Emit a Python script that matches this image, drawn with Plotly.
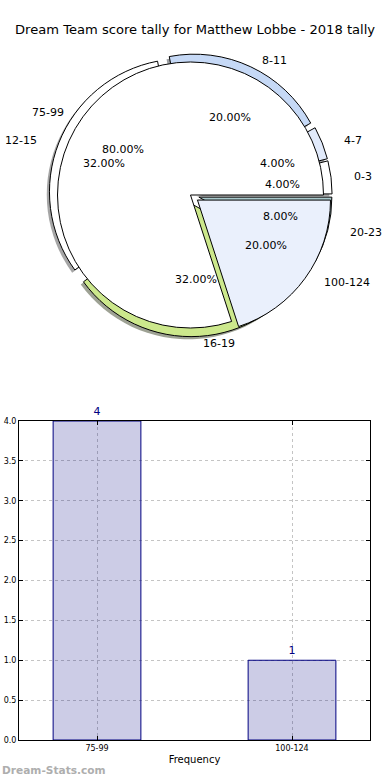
import numpy as np
import plotly.graph_objects as go

# ---------------- data ----------------
title_text = "Dream Team score tally for Matthew Lobbe - 2018 tally"

# outer (exploded) pie: score ranges per round
ring_labels = ["0-3", "4-7", "8-11", "12-15", "16-19", "20-23"]
ring_values = [1, 1, 5, 8, 8, 2]
ring_colors = ["#ffffff", "#e1eafb", "#c6d9f6", "#ffffff", "#cce88c", "#a9c9cc"]

# inner pie: frequency bands
band_labels = ["75-99", "100-124"]
band_values = [4, 1]
band_colors = ["#ffffff", "#eaf0fc"]

# bar chart
bar_categories = ["75-99", "100-124"]
bar_values = [4, 1]
y_ticks = [0.0, 0.5, 1.0, 1.5, 2.0, 2.5, 3.0, 3.5, 4.0]

# ---------------- layout helpers ----------------
W, H = 390, 780
cx, cy = 190.5, 195.0          # pie centre (px)
r = 133.0                      # pie radius (px)
pull = 0.065
half = r * (1 + pull)
dom_x = [(cx - half) / W, (cx + half) / W]
dom_y = [1 - (cy + half) / H, 1 - (cy - half) / H]


def px(x):
    return x / W


def py(y):
    return 1 - y / H


def start_rotation(values):
    # plotly (counterclockwise): first slice ends at `rotation` (clockwise from 12 o'clock);
    # choose rotation so the first slice starts at 3 o'clock, like matplotlib
    return 90.0 - 360.0 * values[0] / float(sum(values))


fig = go.Figure()

# shadow of outer pie
sh = 2.7
shadow_colors = []
for c in ring_colors:
    rr, gg, bb = int(c[1:3], 16), int(c[3:5], 16), int(c[5:7], 16)
    shadow_colors.append(f"rgba({int(rr*0.3)},{int(gg*0.3)},{int(bb*0.3)},0.5)")
fig.add_trace(go.Pie(
    labels=ring_labels, values=ring_values, sort=False,
    direction="counterclockwise", rotation=start_rotation(ring_values),
    pull=[pull] * len(ring_values),
    marker=dict(colors=shadow_colors, line=dict(width=0)),
    textinfo="none", hoverinfo="skip", showlegend=False,
    domain=dict(x=[dom_x[0] - sh / W, dom_x[1] - sh / W],
                y=[dom_y[0] - sh / H, dom_y[1] - sh / H]),
))

# outer exploded pie
fig.add_trace(go.Pie(
    labels=ring_labels, values=ring_values, sort=False,
    direction="counterclockwise", rotation=start_rotation(ring_values),
    pull=[pull] * len(ring_values),
    marker=dict(colors=ring_colors, line=dict(color="#000000", width=1)),
    textinfo="none", showlegend=False,
    domain=dict(x=dom_x, y=dom_y),
))

# inner pie on top
band_pull = [0.0, pull]
fig.add_trace(go.Pie(
    labels=band_labels, values=band_values, sort=False,
    direction="counterclockwise", rotation=start_rotation(band_values),
    pull=band_pull,
    marker=dict(colors=band_colors, line=dict(color="#000000", width=1)),
    textinfo="none", showlegend=False,
    domain=dict(x=dom_x, y=dom_y),
))

# labels & percentages (matplotlib style: labels at 1.1 r, pct at 0.6 r)
rx_t, ry_t = 140.0, 128.0
annotations = []


def add_pie_texts(labels, values, pulls):
    total = float(sum(values))
    start = 0.0
    for lab, v, p in zip(labels, values, pulls):
        frac = v / total
        mid = np.deg2rad(start + 180.0 * frac)
        ca, sa = np.cos(mid), np.sin(mid)
        lx = cx + (1.1 + p) * rx_t * ca
        ly = cy - (1.1 + p) * ry_t * sa
        annotations.append(dict(
            x=px(lx), y=py(ly), xref="paper", yref="paper", text=lab,
            showarrow=False, xanchor="left" if ca > 0 else "right",
            yanchor="middle", font=dict(size=11, color="#000000")))
        tx = cx + (0.6 + p) * rx_t * ca
        ty = cy - (0.6 + p) * ry_t * sa
        annotations.append(dict(
            x=px(tx), y=py(ty), xref="paper", yref="paper",
            text=f"{frac*100:.2f}%", showarrow=False,
            xanchor="center", yanchor="middle",
            font=dict(size=11, color="#000000")))
        start += 360.0 * frac


add_pie_texts(ring_labels, ring_values, [pull] * len(ring_values))
add_pie_texts(band_labels, band_values, band_pull)

# title as centred text
annotations.append(dict(
    x=0.5, y=py(30), xref="paper", yref="paper", text=title_text,
    showarrow=False, xanchor="center", yanchor="middle",
    font=dict(size=13.1, color="#000000")))

# watermark
annotations.append(dict(
    x=0, y=py(770), xref="paper", yref="paper", text="<b>Dream-Stats.com</b>",
    showarrow=False, xanchor="left", yanchor="middle",
    font=dict(size=10.6, color="#aeaeae")))

# ---------------- bar chart ----------------
fig.add_trace(go.Bar(
    x=bar_categories, y=bar_values, width=0.45,
    marker=dict(color="rgba(0,0,128,0.2)", line=dict(color="#000080", width=1)),
    text=[str(v) for v in bar_values], textposition="outside",
    textfont=dict(size=11, color="#000080"), cliponaxis=False,
    showlegend=False, xaxis="x", yaxis="y", hoverinfo="x+y",
))

axis_common = dict(
    showline=True, linecolor="#000000", linewidth=1, mirror="allticks",
    ticks="inside", ticklen=4, tickcolor="#000000",
    showgrid=True, gridcolor="#c4c4c4", griddash="dot", gridwidth=1,
    tickfont=dict(size=8), zeroline=False, automargin=False,
)

fig.update_layout(
    width=W, height=H,
    margin=dict(l=0, r=0, t=0, b=0, autoexpand=False),
    paper_bgcolor="#ffffff", plot_bgcolor="#ffffff",
    font=dict(family="DejaVu Sans", color="#000000"),
    xaxis=dict(domain=[px(19), px(370)], range=[-0.4, 1.4],
               title=dict(text="Frequency", font=dict(size=10), standoff=4),
               **axis_common),
    yaxis=dict(domain=[py(740), py(421)], range=[0, 4],
               tickvals=y_ticks, ticktext=[f"{v:.1f}" for v in y_ticks],
               **axis_common),
    annotations=annotations,
)

fig.write_html("out.html", config={"displayModeBar": False},
               post_script="document.body.style.margin='0';")
